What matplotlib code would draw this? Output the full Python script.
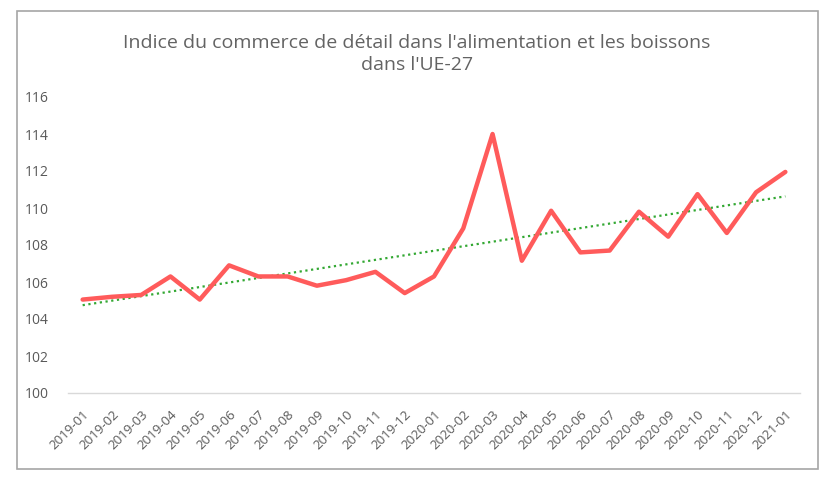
import numpy as np
import matplotlib
matplotlib.use("Agg")
import matplotlib.pyplot as plt
from matplotlib.patches import Rectangle

plt.rcParams['font.family'] = ['Open Sans', 'DejaVu Sans']

# Données
mois = ['2019-01', '2019-02', '2019-03', '2019-04', '2019-05', '2019-06',
        '2019-07', '2019-08', '2019-09', '2019-10', '2019-11', '2019-12',
        '2020-01', '2020-02', '2020-03', '2020-04', '2020-05', '2020-06',
        '2020-07', '2020-08', '2020-09', '2020-10', '2020-11', '2020-12',
        '2021-01']
indice = [105.05, 105.2, 105.3, 106.3, 105.05, 106.9,
          106.3, 106.3, 105.8, 106.1, 106.55, 105.4,
          106.3, 108.9, 114.0, 107.15, 109.85, 107.6,
          107.7, 109.8, 108.45, 110.75, 108.65, 110.85,
          111.95]
y_ticks = [100, 102, 104, 106, 108, 110, 112, 114, 116]

grey = '#595959'

fig = plt.figure(figsize=(8.34, 4.8), dpi=100)
ax = fig.add_axes([68 / 834, 1 - 393 / 480, 732 / 834, 296 / 480])

x = np.arange(len(mois))
ax.plot(x, indice, color='#FF5B5B', linewidth=3.2, solid_joinstyle='round',
        solid_capstyle='round', zorder=3)

# courbe de tendance linéaire
coef = np.polyfit(x, indice, 1)
ax.plot(x, np.polyval(coef, x), color='#33A833', linewidth=1.6,
        linestyle=(0, (1, 1.6)), zorder=2)

ax.set_xlim(-0.5, len(mois) - 0.5)
ax.set_ylim(100, 116)
ax.set_yticks(y_ticks)
ax.set_xticks(x)
ax.set_xticklabels(mois, rotation=45, ha='right', rotation_mode='anchor')

for s in ['top', 'right', 'left']:
    ax.spines[s].set_visible(False)
ax.spines['bottom'].set_color('#D9D9D9')
ax.spines['bottom'].set_linewidth(1)
ax.tick_params(axis='both', length=0, colors=grey)
ax.tick_params(axis='y', labelsize=10, pad=14)
ax.tick_params(axis='x', labelsize=9.5, pad=11)

fig.text(0.5, 0.93, "Indice du commerce de détail dans l'alimentation et les boissons\ndans l'UE-27",
         ha='center', va='top', fontsize=14, color='#636363', linespacing=1.35)

# cadre du graphique
fig.patches.append(Rectangle((17 / 834, 1 - 469 / 480), 801 / 834, 458 / 480,
                             transform=fig.transFigure, fill=False,
                             edgecolor='#A6A6A6', linewidth=1.2))

fig.savefig('out.png', dpi=100)
